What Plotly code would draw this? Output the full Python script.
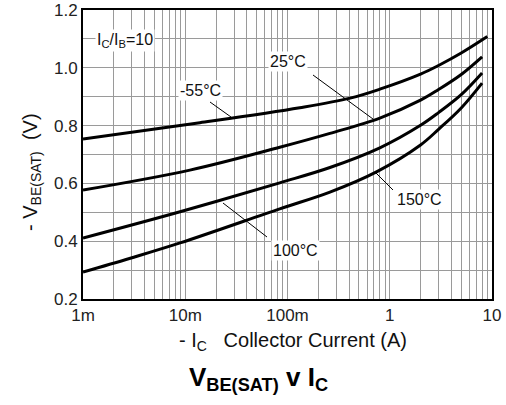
import plotly.graph_objects as go

# ---- data ----
ic_m55 = [0.001, 0.0139, 0.132, 0.41, 0.80, 2.0, 3.0, 5.0, 9.0]
vbe_m55 = [0.754, 0.81, 0.862, 0.895, 0.926, 0.978, 1.008, 1.051, 1.108]

ic_25 = [0.001, 0.0111, 0.084, 0.26, 0.80, 2.0, 3.0, 5.0, 8.0]
vbe_25 = [0.577, 0.646, 0.725, 0.773, 0.826, 0.888, 0.925, 0.977, 1.038]

ic_100 = [0.001, 0.0089, 0.084, 0.26, 0.80, 2.0, 3.0, 5.0, 8.0]
vbe_100 = [0.411, 0.502, 0.602, 0.655, 0.723, 0.801, 0.845, 0.907, 0.982]

ic_150 = [0.001, 0.0029, 0.0089, 0.084, 0.26, 0.75, 2.0, 3.0, 5.0, 8.0]
vbe_150 = [0.293, 0.341, 0.394, 0.512, 0.570, 0.641, 0.733, 0.787, 0.861, 0.947]

x_major = [0.001, 0.01, 0.1, 1, 10]
x_major_text = ["1m", "10m", "100m", "1", "10"]
y_ticks = [0.2, 0.3, 0.4, 0.5, 0.6, 0.7, 0.8, 0.9, 1.0, 1.1, 1.2]
y_text = ["0.2", "", "0.4", "", "0.6", "", "0.8", "", "1.0", "", "1.2"]

# full log grid (1..9 per decade)
x_grid, x_grid_text = [], []
for d in [0.001, 0.01, 0.1, 1]:
    for k in range(1, 10):
        v = round(k * d, 6)
        x_grid.append(v)
        x_grid_text.append(x_major_text[x_major.index(d)] if k == 1 else "")
x_grid.append(10)
x_grid_text.append("10")

W, H = 506, 405
L, R, T, B = 83, 14, 10, 106
PW, PH = W - L - R, H - T - B


def px(x):
    return (x - L) / PW


def py(y):
    return (H - B - y) / PH


fig = go.Figure()
for xs, ys in [(ic_m55, vbe_m55), (ic_25, vbe_25), (ic_100, vbe_100), (ic_150, vbe_150)]:
    fig.add_trace(go.Scatter(x=xs, y=ys, mode="lines",
                             line=dict(color="black", width=3, shape="spline", smoothing=1.0),
                             showlegend=False, hoverinfo="skip"))

fig.update_layout(
    width=W, height=H,
    margin=dict(l=L, r=R, t=T, b=B, autoexpand=False),
    paper_bgcolor="white", plot_bgcolor="white",
    font=dict(family="Liberation Sans, Arial, sans-serif", color="#222"),
    xaxis=dict(type="log", range=[-3, 1], tickvals=x_grid, ticktext=x_grid_text,
               showgrid=True, gridcolor="#9a9a9a", gridwidth=1, automargin=False,
               showline=True, mirror=True, linecolor="black", linewidth=2,
               ticks="", tickfont=dict(size=17, color="#222"), zeroline=False),
    yaxis=dict(range=[0.2, 1.2], tickvals=y_ticks, ticktext=y_text,
               showgrid=True, gridcolor="#9a9a9a", gridwidth=1, automargin=False,
               showline=True, mirror=True, linecolor="black", linewidth=2,
               ticks="", tickfont=dict(size=17, color="#222"), zeroline=False),
)

annots = [
    dict(text="I<sub>C</sub>/I<sub>B</sub>=10", x=px(125), y=py(40), size=16),
    dict(text="-55°C", x=px(200), y=py(90), size=16),
    dict(text="25°C", x=px(288), y=py(62), size=16),
    dict(text="150°C", x=px(419), y=py(199), size=16),
    dict(text="100°C", x=px(295), y=py(250), size=16),
]
for a in annots:
    fig.add_annotation(text=a["text"], x=a["x"], y=a["y"], xref="paper", yref="paper",
                       xanchor="center", yanchor="middle",
                       showarrow=False, font=dict(size=a["size"], color="#111"),
                       bgcolor="white", borderpad=1)

for (x0, y0, x1, y1) in [(210, 102, 231, 117), (313, 75, 373, 119),
                         (393, 190, 375, 172), (267, 237, 223, 203)]:
    fig.add_shape(type="line", xref="paper", yref="paper",
                  x0=px(x0), y0=py(y0), x1=px(x1), y1=py(y1),
                  line=dict(color="black", width=1))

# axis titles and chart title
fig.add_annotation(text="- I<sub>C</sub>\u00a0\u00a0\u00a0Collector Current (A)",
                   x=px(293), y=py(341), xref="paper", yref="paper", showarrow=False,
                   xanchor="center", yanchor="middle",
                   font=dict(size=20, color="#111"))
fig.add_annotation(text="- V<sub>BE(SAT)</sub>\u00a0\u00a0(V)", textangle=-90,
                   x=px(32), y=py(172), xref="paper", yref="paper", showarrow=False,
                   xanchor="center", yanchor="middle",
                   font=dict(size=20, color="#111"))
fig.add_annotation(text="<b>V<sub>BE(SAT)</sub> v I<sub>C</sub></b>",
                   x=px(258), y=py(378), xref="paper", yref="paper", showarrow=False,
                   xanchor="center", yanchor="middle",
                   font=dict(size=26, color="black"))

fig.write_html("out.html")
